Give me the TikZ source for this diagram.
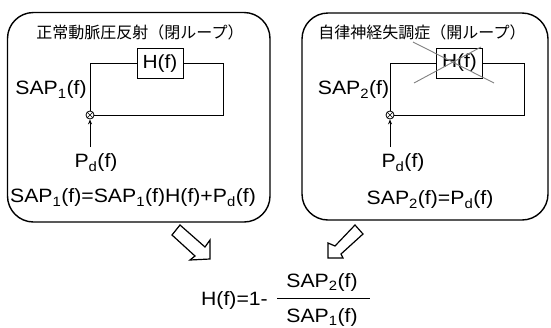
\documentclass[tikz,border=0pt]{standalone}
\usepackage{fontspec}
\setmainfont{Liberation Sans}[FakeStretch=1.1]
\newfontfamily\jp{Noto Sans CJK JP}
\usetikzlibrary{arrows.meta}
\newcommand\sbs[1]{\textsubscript{#1}}
\begin{document}
\begin{tikzpicture}[x=1pt,y=-1pt,
  panel/.style={draw, line width=1.4pt, rounded corners=26pt, inner sep=0pt},
  hbox/.style={draw, line width=1pt, minimum width=46pt, minimum height=30pt, inner sep=0pt, font=\fontsize{19}{19}\selectfont},
  lbl/.style={inner sep=0pt, font=\fontsize{19.3}{19}\selectfont},
  ttl/.style={inner sep=0pt, font=\jp\fontsize{16}{16}\selectfont},
  loopline/.style={line width=0.9pt},
  junc/.style={draw, circle, line width=0.8pt, minimum size=8pt, inner sep=0pt},
  inarrow/.style={line width=0.8pt, -{Stealth[length=5pt,width=4pt]}},
  blockarrow/.style={draw, line width=1.2pt, fill=white, line join=miter},
  strike/.style={draw=gray, line width=0.9pt}
]
\useasboundingbox (0,0) rectangle (551,327);
% panels
\node[panel, minimum width=262.5pt, minimum height=209.5pt] (p1) at (138.75,117.25) {};
\node[panel, minimum width=246pt, minimum height=207pt] (p2) at (425,116.5) {};
% titles
\node[ttl] (t1) at (140,32) {正常動脈圧反射（閉ループ）};
\node[ttl] (t2) at (422,32) {自律神経失調症（開ループ）};
% left loop
\node[hbox] (h1) at (160,63.5) {H(f)};
\node[junc] (j1) at (90,115) {};
\draw[line width=0.6pt] (j1.north west) -- (j1.south east) (j1.north east) -- (j1.south west);
\coordinate (c1) at (223,115);
\draw[loopline] (j1.north) |- (h1.west);
\draw[loopline] (h1.east) -| (c1) -- (j1.east);
\coordinate (s1) at (90,147);
\draw[inarrow] (s1) -- (j1.south);
\node[lbl] (sap1) at (51,90) {SAP\sbs{1}(f)};
\node[lbl] (pd1) at (96,163) {P\sbs{d}(f)};
\node[lbl] (eq1) at (133,198) {SAP\sbs{1}(f)=SAP\sbs{1}(f)H(f)+P\sbs{d}(f)};
% right loop
\node[hbox] (h2) at (459.5,63) {H(f)};
\node[junc] (j2) at (390,115) {};
\draw[line width=0.6pt] (j2.north west) -- (j2.south east) (j2.north east) -- (j2.south west);
\coordinate (c2) at (524,115);
\draw[loopline] (j2.north) |- (h2.west);
\draw[loopline] (h2.east) -| (c2) -- (j2.east);
\coordinate (s2) at (390,147);
\draw[inarrow] (s2) -- (j2.south);
\node[lbl] (sap2) at (353.5,90) {SAP\sbs{2}(f)};
\node[lbl] (pd2) at (403,163) {P\sbs{d}(f)};
\node[lbl] (eq2) at (430,200) {SAP\sbs{2}(f)=P\sbs{d}(f)};
% strike-through of H(f)
\coordinate (x1) at (413,42);
\coordinate (x2) at (494,83);
\coordinate (x3) at (481,47);
\coordinate (x4) at (414,83);
\draw[strike] (x1) -- (x2);
\draw[strike] (x3) -- (x4);
% block arrows
\draw[blockarrow] (180,225) -- (205,247) -- (210,240) -- (210,259) -- (190,260) -- (195,256) -- (172,235) -- cycle;
\draw[blockarrow] (355,225) -- (335,246) -- (328,243) -- (328,258) -- (343,258) -- (341,254) -- (363,234) -- cycle;
% result formula
\node[lbl, anchor=east] (hf) at (268,300) {H(f)=1-};
\node[lbl] (num) at (322,282) {SAP\sbs{2}(f)};
\node[lbl] (den) at (322,317) {SAP\sbs{1}(f)};
\coordinate (b1) at (277,298);
\coordinate (b2) at (370,298);
\draw[line width=1pt] (b1) -- (b2);
\end{tikzpicture}
\end{document}
